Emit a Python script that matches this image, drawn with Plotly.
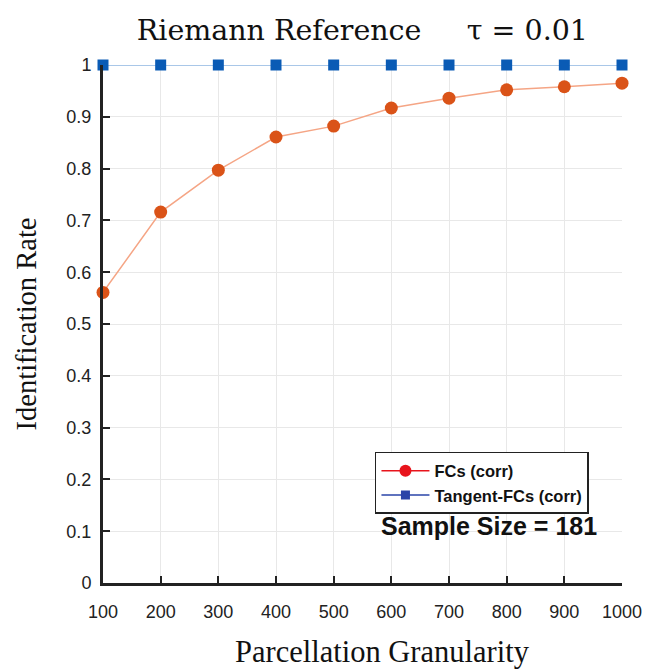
import plotly.graph_objects as go

granularity = [100, 200, 300, 400, 500, 600, 700, 800, 900, 1000]
fc_corr = [0.561, 0.716, 0.797, 0.861, 0.882, 0.917, 0.936, 0.952, 0.958, 0.965]
tangent_fc_corr = [1, 1, 1, 1, 1, 1, 1, 1, 1, 1]
x_ticks = granularity
y_ticks = [0, 0.1, 0.2, 0.3, 0.4, 0.5, 0.6, 0.7, 0.8, 0.9, 1]
y_ticklabels = ["0", "0.1", "0.2", "0.3", "0.4", "0.5", "0.6", "0.7", "0.8", "0.9", "1"]

fig = go.Figure()
fig.add_trace(go.Scatter(x=granularity, y=tangent_fc_corr, mode="lines+markers",
                         line=dict(color="#a9c7e8", width=2),
                         marker=dict(symbol="square", size=11, color="#0a5bb5"),
                         showlegend=False, cliponaxis=False))
fig.add_trace(go.Scatter(x=granularity, y=fc_corr, mode="lines+markers",
                         line=dict(color="#f5a585", width=1.5),
                         marker=dict(symbol="circle", size=13, color="#da5318"),
                         showlegend=False, cliponaxis=False))
# legend entries
fig.add_trace(go.Scatter(x=[None], y=[None], mode="lines+markers", name="FCs (corr)",
                         line=dict(color="#e8141c", width=1.5),
                         marker=dict(symbol="circle", size=12, color="#e8141c")))
fig.add_trace(go.Scatter(x=[None], y=[None], mode="lines+markers", name="Tangent-FCs (corr)",
                         line=dict(color="#2a44a8", width=1.5),
                         marker=dict(symbol="square", size=9, color="#2a44a8")))

fig.update_layout(
    width=646, height=669,
    margin=dict(l=103, r=24, t=65, b=86),
    paper_bgcolor="white", plot_bgcolor="white",
    title=dict(text="Riemann Reference     τ = 0.01", x=0.561, xanchor="center",
               y=0.955, yanchor="middle",
               font=dict(family="DejaVu Serif", size=28.5, color="#111")),
    xaxis=dict(range=[100, 1000], tickvals=x_ticks, ticks="inside", ticklen=7,
               tickwidth=2, tickcolor="#222", showline=True, linecolor="#222", linewidth=3,
               showgrid=True, gridcolor="#e8e8e8", gridwidth=1, zeroline=False,
               automargin=False, ticklabelstandoff=10,
               tickfont=dict(family="Liberation Sans", size=18, color="#222")),
    yaxis=dict(range=[0, 1], tickvals=y_ticks, ticktext=y_ticklabels, ticks="inside",
               ticklen=7, tickwidth=2, tickcolor="#222", showline=True, linecolor="#222",
               linewidth=3, showgrid=True, gridcolor="#e8e8e8", gridwidth=1, zeroline=False,
               automargin=False, ticklabelstandoff=5,
               tickfont=dict(family="Liberation Sans", size=18, color="#222"),
               title=dict(text="Identification Rate", standoff=22,
                          font=dict(family="Liberation Serif", size=28.5, color="#111"))),
    legend=dict(x=0.524, y=0.253, xanchor="left", yanchor="top",
                bgcolor="white", bordercolor="#222", borderwidth=1.5,
                font=dict(family="Liberation Sans", size=16.5, color="#111", weight="bold"),
                tracegroupgap=0, itemwidth=48),
)
fig.add_annotation(text="Parcellation Granularity", x=(382 - 103) / 519, y=-0.133,
                   xref="paper", yref="paper", xanchor="center", yanchor="middle",
                   showarrow=False,
                   font=dict(family="Liberation Serif", size=30.5, color="#111"))
fig.add_annotation(text="<b>Sample Size = 181</b>", x=0.744, y=0.111, xref="paper", yref="paper",
                   xanchor="center", yanchor="middle", showarrow=False,
                   font=dict(family="Liberation Sans", size=25, color="#111"))

fig.write_html("out.html")
